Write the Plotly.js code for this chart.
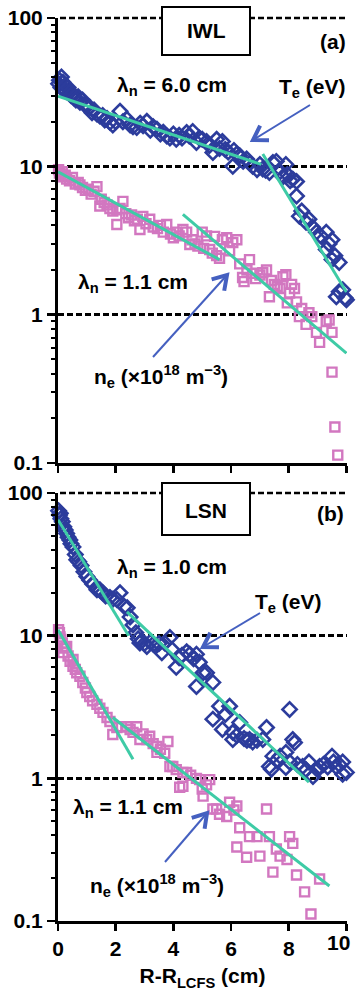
<!DOCTYPE html>
<html><head><meta charset="utf-8">
<script src="https://cdn.plot.ly/plotly-3.0.1.min.js"></script>
<style>html,body{margin:0;padding:0;background:#fff}#chart{width:356px;height:995px}</style>
</head><body><div id="chart"></div>
<script>
// ---------- DATA ----------
// Panel (a) IWL : Te (eV)
const aTeX = [0.02,0.05,0.10,0.12,0.17,0.20,0.25,0.30,0.35,0.41,
              0.45,0.50,0.55,0.62,0.70,0.76,0.85,0.92,1.00,1.10,
              1.18,1.25,1.35,1.45,1.55,1.62,1.70,1.80,1.90,2.00,
              2.15,2.25,2.39,2.50,2.60,2.73,2.85,2.95,3.08,3.20,
              3.30,3.43,3.55,3.65,3.77,3.88,4.00,4.10,4.20,4.30,
              4.46,4.55,4.67,4.80,4.90,5.00,5.15,5.25,5.37,5.50,
              5.60,5.70,5.80,5.90,6.06,6.10,6.20,6.30,6.42,6.54,
              6.65,6.75,6.90,7.00,7.10,7.20,7.33,7.45,7.57,7.70,
              7.80,7.90,7.95,8.05,8.14,8.27,8.27,8.37,8.45,8.60,
              8.70,8.82,8.96,9.10,9.30,9.30,9.40,9.50,9.50,9.60,
              9.65,9.75,9.75,9.87,9.95,10.0];
const aTeY = [36,38,34,40,36.9,33,35,32,34,31.6,
              30,31,29,28,29.5,27,28,26,25.5,25,
              23,24,22.5,21.8,22,20.5,21,19.8,19,20,
              23.5,20,20.8,19,18.5,18.3,19.5,18.8,20.1,17.5,
              18.5,17.8,16.5,17,16,15.5,16.5,15.2,16.2,15.5,
              16.9,16,17.2,14.5,15.5,15.2,14.7,13.8,12.4,15.2,
              13.2,14.7,13,12.5,10,12.8,12.1,11.8,10.8,11.2,
              10.5,10,9.5,10.3,9.6,9.4,9.1,10.6,10.8,9.2,
              8.5,10.3,8.8,8.0,8.2,7.9,6.3,4.6,5.0,4.2,
              4.4,3.9,3.6,3.4,3.6,2.75,3.0,3.2,2.35,2.5,
              1.32,2.25,1.43,1.47,1.3,1.26];
// Panel (a) IWL : ne (1e18 m^-3)
const aNeX = [0.02,0.05,0.10,0.15,0.20,0.25,0.30,0.40,0.50,0.60,
              0.70,0.76,0.85,0.95,1.05,1.15,1.25,1.35,1.45,1.50,
              1.60,1.70,1.80,1.90,2.04,2.04,2.15,2.25,2.35,2.45,
              2.55,2.65,2.75,2.84,2.94,3.05,3.18,3.30,3.45,3.55,
              3.65,3.77,3.90,4.00,4.10,4.20,4.33,4.46,4.57,4.65,
              4.75,4.85,5.00,5.05,5.15,5.26,5.35,5.43,5.50,5.60,
              5.70,5.85,5.95,6.06,6.20,6.30,6.40,6.45,6.55,6.64,
              6.75,6.85,7.00,7.10,7.23,7.33,7.40,7.50,7.60,7.70,
              7.80,7.90,7.95,8.03,8.10,8.20,8.27,8.37,8.45,8.60,
              8.70,8.80,8.96,9.07,9.30,9.40,9.50,9.50,9.60,9.70];
const aNeY = [9.5,9.0,8.8,9.2,8.5,8.7,8.2,8.0,8.4,7.6,
              7.8,7.5,7.2,6.9,7.0,6.5,6.8,7.3,5.4,6.0,
              5.7,5.5,5.2,5.0,4.05,5.1,5.2,5.8,4.8,4.5,
              4.7,4.3,4.4,3.75,4.6,4.1,4.4,3.9,3.8,4.0,
              3.6,4.05,3.5,3.3,3.6,3.4,3.75,3.6,2.97,3.2,
              3.0,2.9,3.6,2.8,3.4,2.75,2.6,3.37,2.5,2.4,
              3.2,3.3,2.7,3.06,3.2,2.2,1.78,1.67,2.0,2.35,
              1.9,1.75,1.85,1.92,2.0,1.32,1.7,1.6,1.55,1.5,
              1.8,1.86,1.2,1.4,1.6,1.5,1.22,0.97,1.1,0.86,
              1.03,0.97,0.76,0.65,0.9,0.92,0.76,0.41,0.175,0.113];
// Panel (b) LSN : Te (eV)
const bTeX = [0.02,0.05,0.08,0.10,0.15,0.20,0.25,0.30,0.35,0.41,
              0.45,0.52,0.60,0.65,0.72,0.80,0.90,1.00,1.10,1.20,
              1.35,1.45,1.55,1.65,1.80,1.90,2.04,2.15,2.30,2.40,
              2.50,2.60,2.70,2.78,2.84,2.90,3.00,3.08,3.20,3.30,
              3.40,3.50,3.60,3.70,3.88,3.95,4.10,4.20,4.30,4.46,
              4.57,4.70,4.80,4.80,4.90,5.03,5.15,5.37,5.37,5.60,
              5.70,5.80,5.95,6.06,6.06,6.20,6.30,6.45,6.55,6.64,
              6.75,6.90,7.10,7.23,7.33,7.40,7.45,7.60,7.70,7.90,
              7.90,8.03,8.03,8.14,8.20,8.30,8.48,8.60,8.70,8.84,
              9.00,9.07,9.20,9.35,9.50,9.55,9.65,9.75,9.87,9.87,
              10.0];
const bTeY = [75,70,72,66,63,58,55,52,49,46.8,
              44,41.9,37,34,33,31,28,26,24.5,23,
              21,21,20,19,18.5,18,17.9,20,16,15.7,
              13.5,11.9,10.5,9.5,8.9,9.2,8.8,8.4,9.0,8.7,
              8.5,8.8,7.6,8.9,9.7,8.0,6.0,7.0,7.3,7.7,
              7.4,6.9,7.4,4.4,6.5,5.5,5.5,4.7,2.6,3.2,
              2.2,2.8,3.2,1.87,2.1,2.0,2.46,1.9,1.85,1.87,
              1.8,1.85,1.87,2.27,1.21,1.16,1.43,1.35,1.43,1.52,
              1.19,3.04,1.3,1.87,1.78,1.25,1.21,1.15,1.3,1.03,
              1.15,1.21,1.25,1.2,1.43,1.3,1.2,1.25,1.3,1.07,
              1.1];
// Panel (b) LSN : ne (1e18 m^-3)
const bNeX = [0.02,0.05,0.07,0.10,0.15,0.17,0.22,0.30,0.35,0.42,
              0.52,0.52,0.60,0.65,0.76,0.86,0.95,1.00,1.10,1.20,
              1.35,1.45,1.56,1.70,1.80,1.90,2.04,2.20,2.39,2.50,
              2.60,2.73,2.84,2.95,3.08,3.18,3.30,3.43,3.43,3.55,
              3.70,3.81,3.88,3.98,4.10,4.22,4.33,4.33,4.46,4.60,
              4.80,4.91,5.00,5.03,5.15,5.26,5.37,5.50,5.60,5.85,
              5.95,6.10,6.20,6.20,6.30,6.54,6.64,6.90,7.00,7.23,
              7.33,7.57,7.45,7.70,7.94,8.03,8.14,8.27,8.55,8.77,
              9.07];
const bNeY = [11,10.5,9.8,9.4,8.9,7.6,8.2,8.4,7.2,6.6,
              6.1,6.8,5.8,5.5,5.2,4.7,4.3,4.0,3.75,3.5,
              3.3,3.1,2.9,2.67,2.5,2.03,2.27,2.3,2.3,2.2,
              2.1,2.3,1.87,2.05,1.87,1.97,1.75,1.67,1.52,1.6,
              1.5,1.81,1.21,1.21,1.15,0.865,1.1,0.88,1.1,1.05,
              1.0,0.98,0.84,0.75,0.9,0.98,0.61,0.61,0.56,0.54,
              0.68,0.6,0.64,0.33,0.45,0.28,0.39,0.39,0.285,0.61,
              0.39,0.32,0.22,0.285,0.27,0.39,0.35,0.21,0.16,0.112,
              0.197];
// Exponential fit lines (end points)
const aTeFit1X = [0, 7.05],  aTeFit1Y = [29.7, 10.3];
const aTeFit2X = [7.1, 10.0], aTeFit2Y = [12.1, 1.42];
const aNeFit1X = [0, 5.6],   aNeFit1Y = [9.2, 2.35];
const aNeFit2X = [4.33, 10.0], aNeFit2Y = [4.74, 0.55];
const bTeFit1X = [0, 2.45],  bTeFit1Y = [65, 10.0];
const bTeFit2X = [2.39, 8.7], bTeFit2Y = [14.7, 0.94];
const bNeFit1X = [0, 2.6],   bNeFit1Y = [11.0, 1.36];
const bNeFit2X = [1.9, 9.41], bNeFit2Y = [2.67, 0.176];
const yTickVals = [0.1, 1, 10, 100];
const yTickText = ['0.1', '1', '10', '100'];
const xTickVals = [0, 2, 4, 6, 8, 10];
const xTickText = ['0', '2', '4', '6', '8', ''];   // last label ("10") drawn right-aligned below
const xLastLabel = '10';

// ---------- STYLE ----------
const FONT = 'Liberation Sans, Arial, sans-serif';
const FS = 21;
const BLUE = '#2c3c9c', PINK = '#d277c0', TEAL = '#3ecba6', ARROW = '#4560c0';
const W = 356, H = 995, ML = 58, MR = 9, MT = 18, MB = 74;
const PW = W - ML - MR, PH = H - MT - MB;
const px = x => (x - ML) / PW;
const py = y => (H - MB - y) / PH;

function markers(x, y, xa, ya, sym, col, size, lw) {
  return {x, y, xaxis: xa, yaxis: ya, type: 'scatter', mode: 'markers', cliponaxis: false,
    marker: {symbol: sym, size: size, color: col, line: {color: col, width: lw}},
    hoverinfo: 'skip', showlegend: false};
}
function fit(x, y, xa, ya) {
  return {x, y, xaxis: xa, yaxis: ya, type: 'scatter', mode: 'lines',
    line: {color: TEAL, width: 3}, hoverinfo: 'skip', showlegend: false};
}
const data = [
  markers(aNeX, aNeY, 'x', 'y', 'square-open', PINK, 9, 2.4),
  markers(aTeX, aTeY, 'x', 'y', 'diamond-open', BLUE, 11, 2.6),
  fit(aTeFit1X, aTeFit1Y, 'x', 'y'), fit(aTeFit2X, aTeFit2Y, 'x', 'y'),
  fit(aNeFit1X, aNeFit1Y, 'x', 'y'), fit(aNeFit2X, aNeFit2Y, 'x', 'y'),
  markers(bNeX, bNeY, 'x2', 'y2', 'square-open', PINK, 9, 2.4),
  markers(bTeX, bTeY, 'x2', 'y2', 'diamond-open', BLUE, 11, 2.6),
  fit(bTeFit1X, bTeFit1Y, 'x2', 'y2'), fit(bTeFit2X, bTeFit2Y, 'x2', 'y2'),
  fit(bNeFit1X, bNeFit1Y, 'x2', 'y2'), fit(bNeFit2X, bNeFit2Y, 'x2', 'y2')
];

const tickfont = {family: FONT, size: FS, color: '#000', weight: 'bold'};
function yAxis(domain, anchor) {
  return {domain, anchor, type: 'log', range: [-1, 2], tickmode: 'array',
    tickvals: yTickVals, ticktext: yTickText,
    showline: true, linewidth: 3, linecolor: '#000', ticks: 'outside', ticklen: 8, tickwidth: 2.5, tickcolor: '#000',
    showgrid: true, gridcolor: '#000', gridwidth: 2.5, griddash: '6px,3px', zeroline: false, tickfont,
    minor: {ticks: 'outside', ticklen: 4, tickwidth: 2, tickcolor: '#000', dtick: 'D1', showgrid: false},
    fixedrange: true};
}
function xAxis(anchor, labels) {
  return {anchor, domain: [0, 1], range: [0, 10.02], tickmode: 'array', tickvals: xTickVals, ticktext: xTickText,
    showticklabels: labels, showline: true, linewidth: 3, linecolor: '#000', ticks: 'outside',
    ticklen: 7, tickwidth: 2.5, tickcolor: '#000', showgrid: false, zeroline: false, tickfont, fixedrange: true};
}
const xa2 = xAxis('y2', true);
xa2.title = {text: 'R-R<sub>LCFS</sub> (cm)', font: {family: FONT, size: FS, color: '#000', weight: 'bold'}, standoff: 10};

function txt(text, x, y, xanchor) {
  return {text, x: px(x), y: py(y), xref: 'paper', yref: 'paper', showarrow: false,
    xanchor: xanchor || 'center', yanchor: 'middle', font: {family: FONT, size: FS, color: '#000', weight: 'bold'}};
}
const annotations = [
  txt('IWL', 206, 31), txt('(a)', 348, 42, 'right'),
  txt('λ<sub>n</sub> = 6.0 cm', 172, 86), txt('T<sub>e</sub> (eV)', 312, 88),
  txt('λ<sub>n</sub> = 1.1 cm', 133, 283), txt('n<sub>e</sub> (×10<sup>18</sup> m<sup>−3</sup>)', 161, 376),
  txt('LSN', 206, 510), txt('(b)', 346, 513, 'right'),
  txt('λ<sub>n</sub> = 1.0 cm', 172, 568), txt('T<sub>e</sub> (eV)', 288, 603),
  txt('λ<sub>n</sub> = 1.1 cm', 128, 808), txt('n<sub>e</sub> (×10<sup>18</sup> m<sup>−3</sup>)', 157, 885),
  txt(xLastLabel, 352, 942, 'right')
];

const shapes = [];
// dashed reference line at 100 (top edge of each panel)
[18, 493].forEach(yy => shapes.push({type: 'line', xref: 'paper', yref: 'paper', x0: px(60), x1: px(347),
  y0: py(yy), y1: py(yy), line: {color: '#000', width: 2.5, dash: '6px,3px'}, layer: 'below'}));
function box(x0, y0, x1, y1) {
  shapes.push({type: 'rect', xref: 'paper', yref: 'paper', x0: px(x0), x1: px(x1), y0: py(y1), y1: py(y0),
    fillcolor: '#fff', line: {color: '#000', width: 2}, layer: 'above'});
}
function arrow(tx, ty, hx, hy) {
  shapes.push({type: 'line', xref: 'paper', yref: 'paper', x0: px(tx), y0: py(ty), x1: px(hx), y1: py(hy),
    line: {color: ARROW, width: 2}, layer: 'above'});
  const dx = tx - hx, dy = ty - hy, L = Math.hypot(dx, dy), ux = dx / L, uy = dy / L;
  const a = 32 * Math.PI / 180, len = 16;
  const w1x = hx + len * (ux * Math.cos(a) - uy * Math.sin(a)), w1y = hy + len * (ux * Math.sin(a) + uy * Math.cos(a));
  const w2x = hx + len * (ux * Math.cos(-a) - uy * Math.sin(-a)), w2y = hy + len * (ux * Math.sin(-a) + uy * Math.cos(-a));
  shapes.push({type: 'path', xref: 'paper', yref: 'paper',
    path: `M ${px(w1x)},${py(w1y)} L ${px(hx)},${py(hy)} L ${px(w2x)},${py(w2y)}`,
    line: {color: ARROW, width: 4}, layer: 'above'});
}
box(162, 7, 250, 55);
box(162, 483, 250, 535);
arrow(310, 105, 253, 140);
arrow(153, 357, 227, 275);
arrow(260, 613, 203, 647);
arrow(165, 862, 207, 813);

const layout = {
  width: W, height: H, margin: {l: ML, r: MR, t: MT, b: MB, pad: 0},
  paper_bgcolor: '#fff', plot_bgcolor: '#fff', showlegend: false,
  font: {family: FONT, size: FS, color: '#000'},
  xaxis: xAxis('y', false), xaxis2: xa2,
  yaxis: yAxis([458 / PH, 1], 'x'), yaxis2: yAxis([0, 428 / PH], 'x2'),
  annotations, shapes
};
Plotly.newPlot('chart', data, layout, {displayModeBar: false, staticPlot: true});
</script></body></html>
